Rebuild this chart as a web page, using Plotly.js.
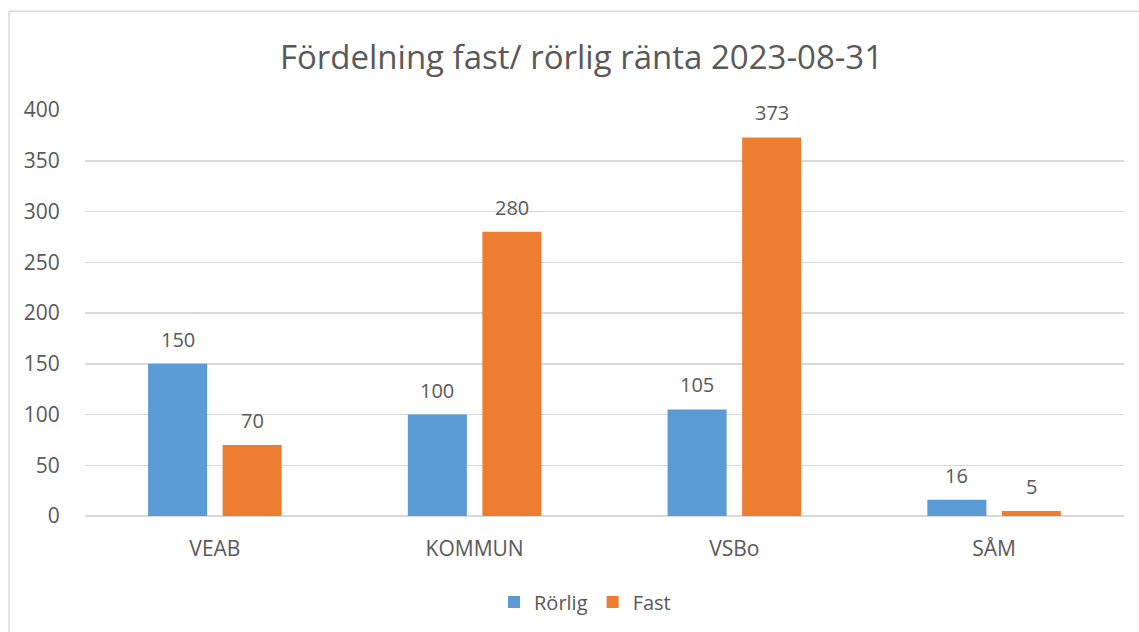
<!DOCTYPE html>
<html><head><meta charset="utf-8">
<script src="https://cdn.plot.ly/plotly-3.0.1.min.js"></script>
<style>html,body{margin:0;padding:0;background:#fff;}#c{width:1139px;height:632px;}</style>
</head><body><div id="c"></div>
<script>
const categories = ['VEAB', 'KOMMUN', 'VSBo', 'SÅM'];
const rorlig = [150, 100, 105, 16];
const fast = [70, 280, 373, 5];
const seriesNames = ['Rörlig', 'Fast'];
const yTicks = [0, 50, 100, 150, 200, 250, 300, 350, 400];

const BLUE = '#5B9BD5', ORANGE = '#ED7D31', TXT = '#595959', GRID = '#d9d9d9';
const FONT = 'Open Sans, sans-serif';
const off = 0.1435;

const traces = [
  {type:'bar', name:seriesNames[0], x:categories, y:rorlig, marker:{color:BLUE}, hoverinfo:'none'},
  {type:'bar', name:seriesNames[1], x:categories, y:fast, marker:{color:ORANGE}, hoverinfo:'none'}
];

const annotations = [];
[rorlig, fast].forEach((arr, s) => {
  arr.forEach((v, i) => {
    annotations.push({x: i + (s === 0 ? -off : off), y: v, xref:'x', yref:'y', text: String(v),
      showarrow:false, yanchor:'bottom', yshift:9, font:{family:FONT, size:20, color:TXT}});
  });
});

const layout = {
  width:1139, height:632,
  margin:{l:85, r:15, t:110, b:115},
  paper_bgcolor:'#fff', plot_bgcolor:'#fff',
  font:{family:FONT, color:TXT, size:20},
  title:{text:'Fördelning fast/ rörlig ränta 2023-08-31', font:{family:FONT, size:33, color:TXT},
    x:581.5/1139, xref:'container', xanchor:'center', y:1-57/632, yanchor:'middle', yref:'container'},
  barmode:'group', bargap:0.426, bargroupgap:0.208,
  xaxis:{type:'category', showgrid:false, zeroline:false, showline:false,
    ticks:'outside', ticklen:14, tickcolor:'rgba(0,0,0,0)', tickfont:{family:FONT, size:21, color:TXT}},
  yaxis:{range:[0,400], tickvals:yTicks, ticktext:yTicks.map(String), showgrid:true, gridcolor:GRID, gridwidth:1.5,
    zeroline:true, zerolinecolor:GRID, zerolinewidth:1.5, showline:false,
    ticks:'outside', ticklen:20, tickcolor:'rgba(0,0,0,0)', tickfont:{family:FONT, size:21, color:TXT}},
  legend:{orientation:'h', x:(585-85)/1039, xanchor:'center', y:(517-602)/407, yanchor:'middle',
    font:{family:FONT, size:20, color:TXT}, itemwidth:30, traceorder:'normal'},
  annotations: annotations,
  shapes:[
    {type:'line', xref:'paper', yref:'paper', x0:(9-85)/1039, x1:1.2, y0:(517-11)/407, y1:(517-11)/407, line:{color:GRID, width:1.5}},
    {type:'line', xref:'paper', yref:'paper', x0:(9-85)/1039, x1:(9-85)/1039, y0:(517-11)/407, y1:-0.5, line:{color:GRID, width:1.5}}
  ],
  showlegend:true
};

Plotly.newPlot('c', traces, layout, {displayModeBar:false, staticPlot:true});
</script></body></html>
